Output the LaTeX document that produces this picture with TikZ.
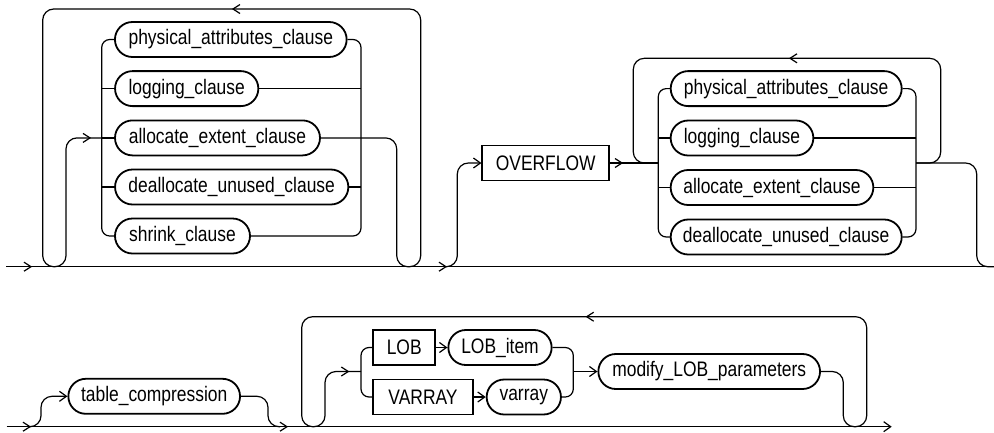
\documentclass[tikz,border=0pt]{standalone}
\usepackage{fontspec}
\setmainfont{Liberation Sans}[FakeStretch=0.83]
\usetikzlibrary{shapes.misc,arrows.meta}
\begin{document}
\begin{tikzpicture}[x=1pt,y=-1pt,
  line width=1.2pt,
  every node/.style={font=\fontsize{21}{25}\selectfont},
  term/.style={draw, rounded rectangle, line width=1.8pt, minimum height=35pt, inner sep=0pt},
  kw/.style={draw, rectangle, line width=1.8pt, minimum height=35pt, inner sep=0pt},
  loopline/.style={rounded corners=11pt},
  rail/.style={rounded corners=8pt},
  tip/.style={-{Straight Barb[length=7pt,width=10pt]}},
  chevR/.pic={\draw[line width=1.2pt] (-7,-4.5) -- (0,0) -- (-7,4.5);},
  chevL/.pic={\draw[line width=1.2pt] (7,-4.5) -- (0,0) -- (7,4.5);},
]
\useasboundingbox (0,0) rectangle (994,432);

% ---------- section 1 ----------
\node[term, minimum width=231.7pt] (pac1) at (230.8,39.5) {physical\_attributes\_clause};
\node[term, minimum width=143.3pt] (log1) at (186.7,88.6) {logging\_clause};
\node[term, minimum width=205pt]   (alc1) at (217.5,137.9) {allocate\_extent\_clause};
\node[term, minimum width=233.3pt] (dea1) at (231.7,187) {deallocate\_unused\_clause};
\node[term, minimum width=135pt]   (shr1) at (182.5,236) {shrink\_clause};
\coordinate (L1) at (101.7,0);
\coordinate (R1) at (361,0);
\coordinate (s1) at (6,266.7);
\coordinate (e1) at (994,266.7);
\draw (s1) -- (e1);
\draw[rail] (pac1.west) -- (pac1.west -| L1) -- (shr1.west -| L1) -- (shr1.west);
\draw (log1.west -| L1) -- (log1.west);
\draw (alc1.west -| L1) -- (alc1.west);
\draw (dea1.west -| L1) -- (dea1.west);
\draw[rail] (pac1.east) -- (pac1.east -| R1) -- (shr1.east -| R1) -- (shr1.east);
\draw (log1.east) -- (log1.east -| R1);
\draw (dea1.east) -- (dea1.east -| R1);
\draw[loopline] (alc1.west -| L1) -- (66,137.9) -- (66,266.7) -- (42.7,266.7) -- (42.7,9)
  -- (420.7,9) -- (420.7,266.7) -- (396.7,266.7) -- (396.7,137.9) -- (alc1.east);
\pic at (31,266.7) {chevR};
\pic at (90,137.9) {chevR};
\pic at (233,9) {chevL};
\pic at (446,266.7) {chevR};

% ---------- section 2 ----------
\node[kw, minimum width=126.7pt] (ovf) at (545.7,163) {OVERFLOW};
\node[term, minimum width=231pt]   (pac2) at (786.2,88.6) {physical\_attributes\_clause};
\node[term, minimum width=142.7pt] (log2) at (742,138) {logging\_clause};
\node[term, minimum width=202.7pt] (alc2) at (772,187.5) {allocate\_extent\_clause};
\node[term, minimum width=231pt]   (dea2) at (786.2,237) {deallocate\_unused\_clause};
\coordinate (L2) at (658.3,163);
\coordinate (R2) at (916,163);
\draw[loopline, tip] (446,266.7) -- (457.3,266.7) -- (457.3,163) -- (ovf.west);
\draw (ovf.east) -- (L2);
\draw[rail] (pac2.west) -- (pac2.west -| L2) -- (dea2.west -| L2) -- (dea2.west);
\draw (log2.west -| L2) -- (log2.west);
\draw (alc2.west -| L2) -- (alc2.west);
\draw[rail] (pac2.east) -- (pac2.east -| R2) -- (dea2.east -| R2) -- (dea2.east);
\draw (log2.east) -- (log2.east -| R2);
\draw (alc2.east) -- (alc2.east -| R2);
\draw[loopline] (R2) -- (940.7,163) -- (940.7,58.3) -- (633.3,58.3) -- (633.3,163) -- (L2);
\draw[loopline] (R2) -- (976.7,163) -- (976.7,266.7) -- (e1);
\pic at (622,163) {chevR};
\pic at (790,58.3) {chevL};

% ---------- section 3 ----------
\coordinate (s3) at (6.7,426.7);
\coordinate (e3) at (891.7,426.7);
\draw[tip] (s3) -- (e3);
\node[term, minimum width=171.7pt] (tc) at (154.2,396.3) {table\_compression};
\draw[loopline, tip] (29,426.7) -- (41,426.7) -- (41,396.3) -- (tc.west);
\draw[loopline] (tc.east) -- (268,396.3) -- (268,426.7) -- (280,426.7);
\pic at (30,426.7) {chevR};
\pic at (287,426.7) {chevR};

\node[kw, minimum width=61.7pt]    (lob)  at (404.2,347.5) {LOB};
\node[term, minimum width=103.3pt] (lobi) at (500,347.5) {LOB\_item};
\node[kw, minimum width=99.3pt]    (var)  at (423,397) {VARRAY};
\node[term, minimum width=74.3pt]  (vari) at (523.8,397) {varray};
\node[term, minimum width=221.7pt] (mod)  at (709.2,371.5) {modify\_LOB\_parameters};
\coordinate (L3) at (361,371.5);
\coordinate (R3) at (573.3,371.5);
\draw[rail] (lob.west) -- (lob.west -| L3) -- (var.west -| L3) -- (var.west);
\draw[rail] (lobi.east) -- (lobi.east -| R3) -- (vari.east -| R3) -- (vari.east);
\draw[tip] (lob.east) -- (lobi.west);
\draw[tip] (var.east) -- (vari.west);
\draw[tip] (R3) -- (mod.west);
\draw[loopline] (L3) -- (325,371.5) -- (325,426.7) -- (301.7,426.7) -- (301.7,316.7)
  -- (866.7,316.7) -- (866.7,426.7) -- (843.3,426.7) -- (843.3,371.5) -- (mod.east);
\pic at (348.3,371.5) {chevR};
\pic at (586.7,316.7) {chevL};
\end{tikzpicture}
\end{document}
